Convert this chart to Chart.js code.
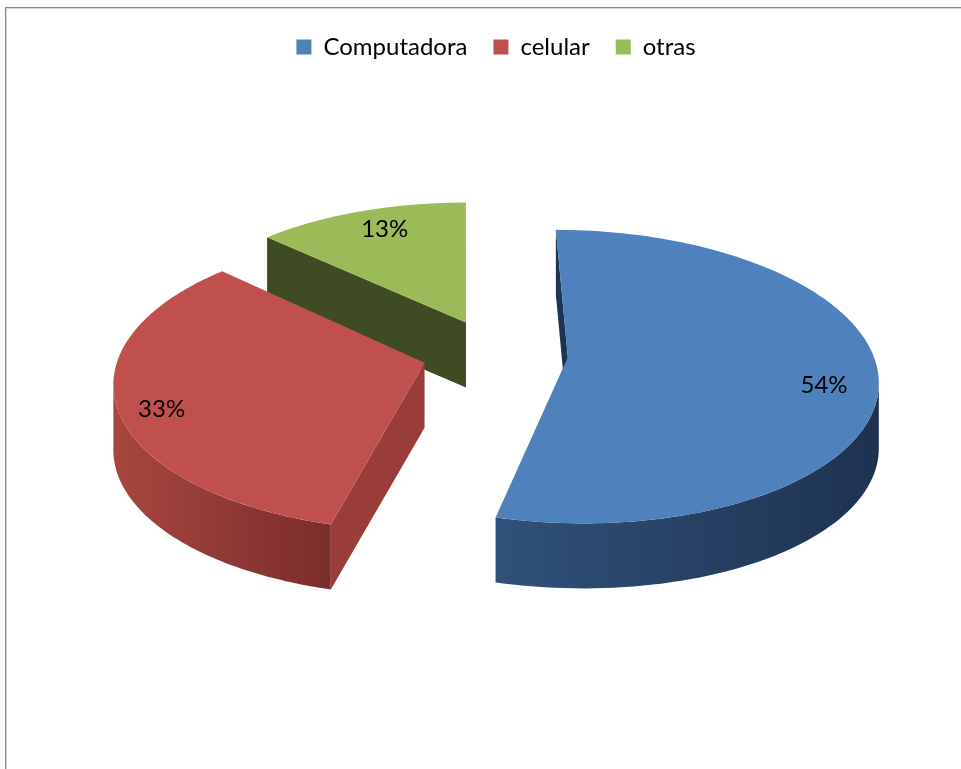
<!doctype html>
<html>
<head>
<meta charset="utf-8">
<title>pie 3d</title>
<script src="https://cdn.jsdelivr.net/npm/chart.js@4.4.1/dist/chart.umd.min.js"></script>
<style>
  html, body { margin: 0; padding: 0; background: #fff; }
  #wrap { width: 961px; height: 769px; position: relative; }
</style>
</head>
<body>
<div id="wrap"><canvas id="chart" width="961" height="769"></canvas></div>
<script>
// data
var categories = ["Computadora", "celular", "otras"];
var shares = [54, 33, 13];

// colours
var topColors = ["#4F81BD", "#C0504D", "#9BBB59"];
var wallColors = [["#30517a", "#1e3250"], ["#a8463f", "#7a2d2c"], ["#3f4b22", "#3f4b22"]];
var faceColors = ["#1f3350", "#9a3d3a", "#3f4b22"];

// perspective projection of the pie plane (u,v relative to chart centre, z = drop)
function makeProj(o) {
    return function(u, v, z) {
        var s = 1 / (1 - o.persp * v);
        return [o.viewX + (u - o.camU) * s, o.centerY + o.height * (s - 1) + (z || 0)];
    };
}

var pie3d = {
    id: "pie3d",
    beforeDraw: function(chart) {
        var ctx = chart.ctx;
        ctx.save();
        ctx.lineWidth = 1;
        ctx.strokeStyle = "#8a8a8a";
        ctx.strokeRect(5.5, 7.5, 2000, 2000);
        ctx.strokeStyle = "#d4d4d4";
        ctx.strokeRect(6.5, 8.5, 2000, 2000);
        ctx.restore();
    },
    beforeDatasetDraw: function(chart, args, opts) {
        var ctx = chart.ctx;
        var arcs = args.meta.data;
        var cx = arcs[0].x, cy = arcs[0].y;
        var P = makeProj(opts);
        var D = opts.depth;
        var camV = 1 / opts.persp;

        function slice(arc) {
            var mid = (arc.startAngle + arc.endAngle) / 2;
            return {
                s: arc.startAngle, e: arc.endAngle, R: arc.outerRadius,
                pu: arc.x - cx + Math.cos(mid) * opts.explode,
                pv: arc.y - cy + Math.sin(mid) * opts.explode
            };
        }
        function poly(pts, fill) {
            ctx.beginPath();
            pts.forEach(function(p, j) { j ? ctx.lineTo(p[0], p[1]) : ctx.moveTo(p[0], p[1]); });
            ctx.closePath();
            ctx.fillStyle = fill;
            ctx.fill();
        }

        var order = arcs.map(function(a, i) { return i; });
        order.sort(function(a, b) { return slice(arcs[a]).pv - slice(arcs[b]).pv; });

        ctx.save();
        // sides, back to front
        order.forEach(function(i) {
            var g = slice(arcs[i]);
            var steps = 120, top = [], bot = [];
            for (var j = 0; j <= steps; j++) {
                var t = g.s + (g.e - g.s) * j / steps;
                var c = Math.cos(t), sn = Math.sin(t);
                if ((opts.camU - g.pu) * c + (camV - g.pv) * sn - g.R <= 0) continue;
                top.push(P(g.pu + g.R * c, g.pv + g.R * sn, 0));
                bot.push(P(g.pu + g.R * c, g.pv + g.R * sn, D));
            }
            if (top.length > 1) {
                var xs = top.map(function(p) { return p[0]; });
                var gr = ctx.createLinearGradient(Math.min.apply(null, xs), 0, Math.max.apply(null, xs), 0);
                gr.addColorStop(0, wallColors[i][0]);
                gr.addColorStop(1, wallColors[i][1]);
                poly(top.concat(bot.reverse()), gr);
            }
            // cut faces
            [[g.s, g.s - Math.PI / 2], [g.e, g.e + Math.PI / 2]].forEach(function(f) {
                var nx = Math.cos(f[1]), ny = Math.sin(f[1]);
                if ((opts.camU - g.pu) * nx + (camV - g.pv) * ny <= 0) return;
                var eu = g.pu + g.R * Math.cos(f[0]), ev = g.pv + g.R * Math.sin(f[0]);
                poly([P(g.pu, g.pv, 0), P(eu, ev, 0), P(eu, ev, D), P(g.pu, g.pv, D)], faceColors[i]);
            });
        });
        // tops
        arcs.forEach(function(arc) {
            var g = slice(arc);
            var pts = [P(g.pu, g.pv, 0)];
            var steps = 160;
            for (var j = 0; j <= steps; j++) {
                var t = g.s + (g.e - g.s) * j / steps;
                pts.push(P(g.pu + g.R * Math.cos(t), g.pv + g.R * Math.sin(t), 0));
            }
            poly(pts, arc.options.backgroundColor);
        });
        ctx.restore();
        return false;
    },
    afterDatasetsDraw: function(chart, args, opts) {
        var ctx = chart.ctx;
        var arcs = chart.getDatasetMeta(0).data;
        var cx = arcs[0].x, cy = arcs[0].y;
        var P = makeProj(opts);
        var data = chart.data.datasets[0].data;
        var total = data.reduce(function(t, v) { return t + v; }, 0);
        ctx.save();
        ctx.font = "24px Lato";
        ctx.fillStyle = "#000";
        ctx.textAlign = "center";
        ctx.textBaseline = "middle";
        arcs.forEach(function(arc, i) {
            var mid = (arc.startAngle + arc.endAngle) / 2;
            var r = opts.explode + opts.labelAt[i] * arc.outerRadius;
            var p = P(arc.x - cx + Math.cos(mid) * r, arc.y - cy + Math.sin(mid) * r, 0);
            var n = opts.labelNudge[i];
            ctx.fillText(Math.round(data[i] / total * 100) + "%", p[0] + n[0], p[1] + n[1]);
        });
        ctx.restore();
    }
};

var chart = new Chart(document.getElementById("chart"), {
    type: "pie",
    data: {
        labels: categories,
        datasets: [{
            data: shares,
            backgroundColor: topColors,
            borderWidth: 0
        }]
    },
    options: {
        responsive: false,
        devicePixelRatio: 1,
        animation: false,
        radius: 305,
        layout: { padding: { top: 9, left: 31, right: 0, bottom: 0 } },
        plugins: {
            legend: {
                position: "top",
                labels: {
                    font: { family: "Lato", size: 24 },
                    color: "#000",
                    boxWidth: 15,
                    boxHeight: 15,
                    padding: 26
                }
            },
            tooltip: { enabled: false },
            pie3d: {
                viewX: 465,
                camU: -30,
                centerY: 353,
                persp: 0.00043,
                height: 1091,
                depth: 65,
                explode: 73,
                labelAt: [0.84, 0.87, 0.72],
                labelNudge: [[-4, 13], [4, 10], [-3, -11]]
            }
        }
    },
    plugins: [pie3d]
});
</script>
</body>
</html>
